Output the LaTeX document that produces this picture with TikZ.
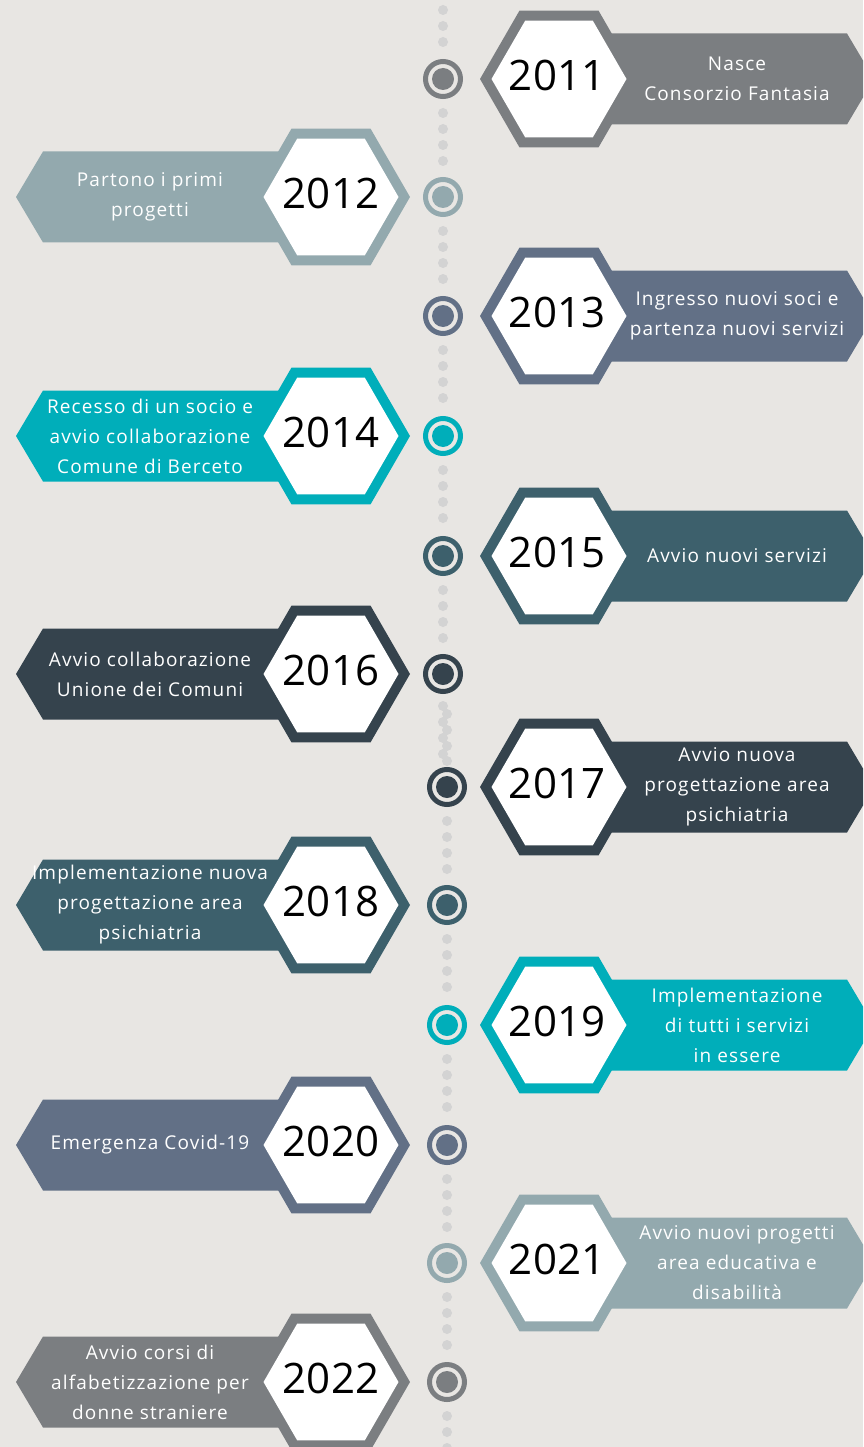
\documentclass[tikz,border=0pt]{standalone}
\usepackage{fontspec}
\setmainfont{Open Sans}
\newfontfamily\bannerfont[LetterSpace=6]{Open Sans}
\usetikzlibrary{calc}

\definecolor{paper}{HTML}{E8E6E3}
\definecolor{dotgrey}{HTML}{D3D3D3}
\definecolor{ashgrey}{HTML}{7B7E81}
\definecolor{sagegrey}{HTML}{93A9AE}
\definecolor{slateblue}{HTML}{627086}
\definecolor{brightteal}{HTML}{00AEBA}
\definecolor{deepteal}{HTML}{3D606C}
\definecolor{inkslate}{HTML}{35434D}

\newcommand{\hexpath}[1]{+(0:#1) -- +(60:#1) -- +(120:#1) -- +(180:#1) -- +(240:#1) -- +(300:#1) -- cycle}

% year on the right of the timeline: year, y, colour, marker x, text
\newcommand{\stepright}[5]{
	\fill[#3] (600,#2-45.5) -- (847,#2-45.5) -- (874,#2) -- (847,#2+45.5) -- (600,#2+45.5) -- cycle;
	\coordinate (c#1) at (559,#2);
	\fill[#3] (c#1) \hexpath{79};
	\fill[white] (c#1) \hexpath{67.5};
	\node[yeartext] (y#1) at ($(c#1)+(-2,-4)$) {#1};
	\node[bannertext] (t#1) at (737,#2) {#5};
	\node[ring, draw=#3] (m#1) at (#4,#2) {};
	\fill[#3] (m#1) circle (11pt);
}
% year on the left of the timeline
\newcommand{\stepleft}[5]{
	\fill[#3] (331,#2-45.5) -- (43,#2-45.5) -- (16,#2) -- (43,#2+45.5) -- (331,#2+45.5) -- cycle;
	\coordinate (c#1) at (331,#2);
	\fill[#3] (c#1) \hexpath{79};
	\fill[white] (c#1) \hexpath{67.5};
	\node[yeartext] (y#1) at ($(c#1)+(0,-4)$) {#1};
	\node[bannertext] (t#1) at (150,#2) {#5};
	\node[ring, draw=#3] (m#1) at (#4,#2) {};
	\fill[#3] (m#1) circle (11pt);
}

\begin{document}
\begin{tikzpicture}[x=1pt, y=-1pt,
		yeartext/.style={font=\fontsize{42}{42}\selectfont, text=black, inner sep=0pt},
		bannertext/.style={font=\bannerfont\fontsize{19}{30}\selectfont, text=white, align=center, inner sep=0pt},
		ring/.style={circle, minimum size=35pt, line width=5pt, fill=paper, inner sep=0pt}]
	\useasboundingbox (0,0) rectangle (863,1447);
	\clip (0,0) rectangle (863,1447);
	\fill[paper] (0,0) rectangle (863,1447);

	% dotted timeline
	\foreach \y in {-6,10,26,42} \fill[dotgrey] (443,\y) circle (5pt);
	\foreach \y in {79,197,316,436,556} \foreach \k in {0,...,3} \fill[dotgrey] (443,\y+34+16*\k) circle (5pt);
	\foreach \y in {706,722,738,754} \fill[dotgrey] (443,\y) circle (5pt);
	\foreach \y in {714,730,746,761} \fill[dotgrey] (447,\y) circle (5pt);
	\foreach \y in {787,905,1025,1145,1263,1382} \foreach \k in {0,...,3} \fill[dotgrey] (447,\y+34+16*\k) circle (5pt);

	\stepright{2011}{79}{ashgrey}{443}{Nasce\\Consorzio Fantasia}
	\stepleft{2012}{197}{sagegrey}{443}{Partono i primi\\progetti}
	\stepright{2013}{316}{slateblue}{443}{Ingresso nuovi soci e\\partenza nuovi servizi}
	\stepleft{2014}{436}{brightteal}{443}{Recesso di un socio e\\avvio collaborazione\\Comune di Berceto}
	\stepright{2015}{556}{deepteal}{443}{Avvio nuovi servizi}
	\stepleft{2016}{674}{inkslate}{443}{Avvio collaborazione\\Unione dei Comuni}
	\stepright{2017}{787}{inkslate}{447}{Avvio nuova\\progettazione area\\psichiatria}
	\stepleft{2018}{905}{deepteal}{447}{Implementazione nuova\\progettazione area\\psichiatria}
	\stepright{2019}{1025}{brightteal}{447}{Implementazione\\di tutti i servizi\\in essere}
	\stepleft{2020}{1145}{slateblue}{447}{Emergenza Covid-19}
	\stepright{2021}{1263}{sagegrey}{447}{Avvio nuovi progetti\\area educativa e\\disabilità}
	\stepleft{2022}{1382}{ashgrey}{447}{Avvio corsi di\\alfabetizzazione per\\donne straniere}
\end{tikzpicture}
\end{document}
